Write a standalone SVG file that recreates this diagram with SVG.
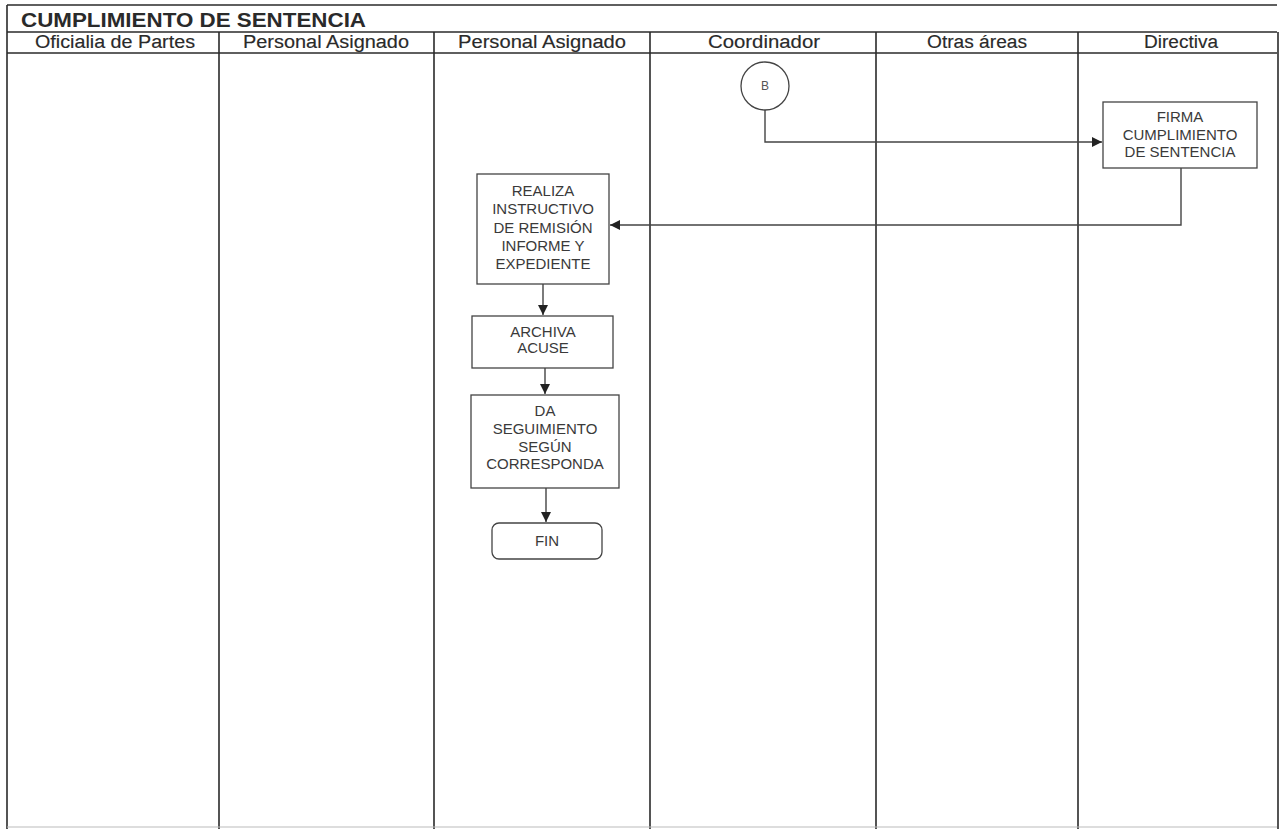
<svg xmlns="http://www.w3.org/2000/svg" width="1280" height="829" viewBox="0 0 1280 829">
<defs>
<marker id="ah" viewBox="0 0 10 10" refX="10" refY="5" markerWidth="10" markerHeight="10" markerUnits="userSpaceOnUse" orient="auto">
<path d="M0,0 L10,5 L0,10 z" fill="#222"/>
</marker>
<style>
.lane{stroke:#2a2a2a;stroke-width:1.6;fill:none}
.hdr{font-family:"Liberation Sans",Arial,sans-serif;font-size:18px;fill:#2a2a2a;stroke:#2a2a2a;stroke-width:0.15;text-anchor:middle}
.ttl{font-family:"Liberation Sans",Arial,sans-serif;font-size:21px;font-weight:bold;fill:#2a2a2a}
.box{fill:#fff;stroke:#444;stroke-width:1.3}
.t{font-family:"Liberation Sans",Arial,sans-serif;font-size:15px;fill:#3a3a3a;text-anchor:middle}
.conn{fill:none;stroke:#444;stroke-width:1.4}
</style>
</defs>
<rect width="1280" height="829" fill="#fff"/>
<g id="frame">
<line class="lane" x1="7" y1="5" x2="1277" y2="5"/>
<line class="lane" x1="7" y1="32" x2="1277" y2="32"/>
<line class="lane" x1="7" y1="53" x2="1277" y2="53"/>
<line class="lane" x1="7" y1="5" x2="7" y2="829"/>
<line class="lane" x1="1278" y1="32" x2="1278" y2="829"/>
<line class="lane" x1="219" y1="32" x2="219" y2="829"/>
<line class="lane" x1="434" y1="32" x2="434" y2="829"/>
<line class="lane" x1="650" y1="32" x2="650" y2="829"/>
<line class="lane" x1="876" y1="32" x2="876" y2="829"/>
<line class="lane" x1="1078" y1="32" x2="1078" y2="829"/>
<line x1="7" y1="827" x2="1277" y2="827" stroke="#bbb" stroke-width="1"/>
<text class="ttl" x="21" y="27" textLength="345" lengthAdjust="spacingAndGlyphs">CUMPLIMIENTO DE SENTENCIA</text>
<text class="hdr" x="115" y="48" textLength="160" lengthAdjust="spacingAndGlyphs">Oficialia de Partes</text>
<text class="hdr" x="326" y="48" textLength="166" lengthAdjust="spacingAndGlyphs">Personal Asignado</text>
<text class="hdr" x="542" y="48" textLength="168" lengthAdjust="spacingAndGlyphs">Personal Asignado</text>
<text class="hdr" x="764" y="48" textLength="112" lengthAdjust="spacingAndGlyphs">Coordinador</text>
<text class="hdr" x="977" y="48" textLength="100" lengthAdjust="spacingAndGlyphs">Otras áreas</text>
<text class="hdr" x="1181" y="48" textLength="74" lengthAdjust="spacingAndGlyphs">Directiva</text>
</g>
<g id="connectors">
<polyline class="conn" points="765,110 765,142 1102,142" marker-end="url(#ah)"/>
<polyline class="conn" points="1181,168 1181,225 610,225" marker-end="url(#ah)"/>
<line class="conn" x1="543" y1="284" x2="543" y2="315" marker-end="url(#ah)"/>
<line class="conn" x1="545" y1="368" x2="545" y2="394" marker-end="url(#ah)"/>
<line class="conn" x1="546" y1="488" x2="546" y2="522" marker-end="url(#ah)"/>
</g>
<g id="node-b">
<circle cx="765" cy="86" r="24" fill="#fff" stroke="#444" stroke-width="1.3"/>
<text class="t" x="765" y="90" style="font-size:12px;fill:#555">B</text>
</g>
<g id="node-firma">
<rect class="box" x="1103" y="102" width="154" height="66"/>
<text class="t" x="1180" y="122">FIRMA</text>
<text class="t" x="1180" y="140">CUMPLIMIENTO</text>
<text class="t" x="1180" y="157">DE SENTENCIA</text>
</g>
<g id="node-realiza">
<rect class="box" x="477" y="174" width="132" height="110"/>
<text class="t" x="543" y="196">REALIZA</text>
<text class="t" x="543" y="214">INSTRUCTIVO</text>
<text class="t" x="543" y="233">DE REMISIÓN</text>
<text class="t" x="543" y="251">INFORME Y</text>
<text class="t" x="543" y="269">EXPEDIENTE</text>
</g>
<g id="node-archiva">
<rect class="box" x="472" y="316" width="141" height="52"/>
<text class="t" x="543" y="337">ARCHIVA</text>
<text class="t" x="543" y="353">ACUSE</text>
</g>
<g id="node-da">
<rect class="box" x="471" y="395" width="148" height="93"/>
<text class="t" x="545" y="416">DA</text>
<text class="t" x="545" y="434">SEGUIMIENTO</text>
<text class="t" x="545" y="452">SEGÚN</text>
<text class="t" x="545" y="469">CORRESPONDA</text>
</g>
<g id="node-fin">
<rect class="box" x="492" y="523" width="110" height="36" rx="7"/>
<text class="t" x="547" y="546">FIN</text>
</g>
</svg>
